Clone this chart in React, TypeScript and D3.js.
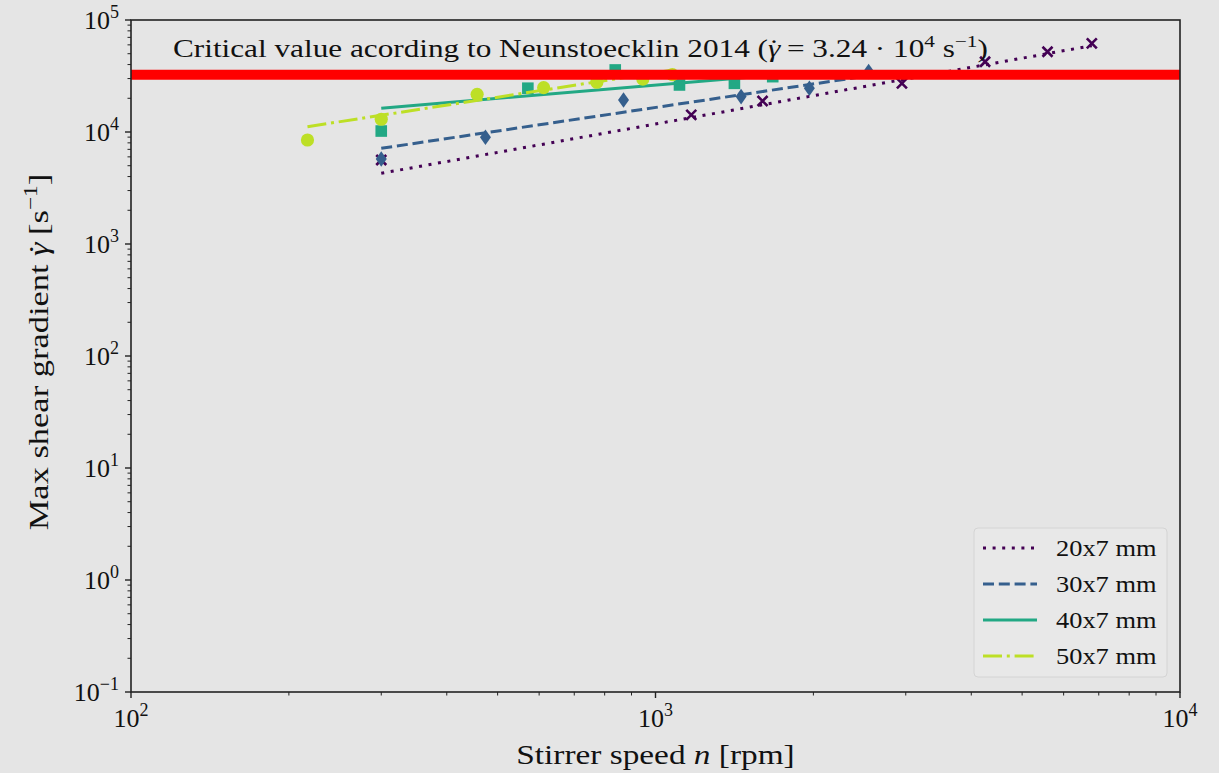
import React from 'react';
import * as d3 from 'd3';

const W = 1219;
const H = 773;
const M = { left: 131, right: 39, top: 20, bottom: 81 };

// ---- data ----
const seriesNames = ['20x7 mm', '30x7 mm', '40x7 mm', '50x7 mm'];
const seriesColors = ['#440154', '#355f8d', '#22a884', '#bddf26'];

const speeds20 = [300, 1170, 1600, 2950, 4250, 5590, 6790];
const shear20 = [5620, 14200, 18900, 27200, 42400, 52100, 61900];
const speeds30 = [300, 474, 869, 1456, 1965, 2549];
const shear30 = [5740, 8970, 19300, 20700, 24600, 34700];
const speeds40 = [300, 571, 838, 1111, 1414, 1673];
const shear40 = [10200, 24600, 35800, 26300, 27200, 31200];
const speeds50 = [217, 300, 457, 612, 773, 946, 1077];
const shear50 = [8480, 13000, 21700, 24900, 27800, 29700, 32500];

// fitted power-law lines (start / end points)
const fitSpeeds20 = [300, 6790];
const fitShear20 = [4280, 59000];
const fitSpeeds30 = [300, 2549];
const fitShear30 = [7150, 31800];
const fitSpeeds40 = [300, 1673];
const fitShear40 = [16300, 32150];
const fitSpeeds50 = [217, 1077];
const fitShear50 = [11150, 35700];

const criticalShear = 32400;

const xDomain = [100, 10000];
const yDomain = [0.1, 100000];
const xMajor = [2, 3, 4];
const yMajor = [-1, 0, 1, 2, 3, 4, 5];

const FONT = '"Liberation Serif", "DejaVu Serif", serif';

const dashes = ['3 6.6', '11 4.8', '', '19 4.8 3 4.8'];
const markerKinds = ['x', 'diamond', 'square', 'circle'];

function Marker({ kind, x, y, color }: { kind: string; x: number; y: number; color: string }) {
  if (kind === 'x') {
    const s = 5;
    return (
      <path
        d={`M${x - s},${y - s}L${x + s},${y + s}M${x - s},${y + s}L${x + s},${y - s}`}
        stroke={color}
        strokeWidth={2.6}
        fill="none"
      />
    );
  }
  if (kind === 'diamond') {
    const w = 5.5, h = 7.8;
    return <path d={`M${x},${y - h}L${x + w},${y}L${x},${y + h}L${x - w},${y}Z`} fill={color} />;
  }
  if (kind === 'square') {
    const s = 5.8;
    return <rect x={x - s} y={y - s} width={2 * s} height={2 * s} fill={color} />;
  }
  return <circle cx={x} cy={y} r={6.6} fill={color} />;
}

// italic gamma with a dot above
function GammaDot({ size }: { size: number }) {
  return (
    <>
      <tspan fontStyle="italic">γ</tspan>
      <tspan dx={-size * 0.37}>˙</tspan>
      <tspan dx={size * 0.04}>{''}</tspan>
    </>
  );
}

export default function App() {
  const x = d3.scaleLog().domain(xDomain).range([M.left, W - M.right]);
  const y = d3.scaleLog().domain(yDomain).range([H - M.bottom, M.top]);

  const allSpeeds = [speeds20, speeds30, speeds40, speeds50];
  const allShear = [shear20, shear30, shear40, shear50];
  const fitS = [fitSpeeds20, fitSpeeds30, fitSpeeds40, fitSpeeds50];
  const fitV = [fitShear20, fitShear30, fitShear40, fitShear50];

  const line = d3
    .line<[number, number]>()
    .x((d) => x(d[0]))
    .y((d) => y(d[1]));

  const x0 = M.left, x1 = W - M.right, y0 = H - M.bottom, y1 = M.top;

  const minorX: number[] = [];
  for (let e = 2; e < 4; e++) for (let k = 2; k <= 9; k++) minorX.push(k * Math.pow(10, e));
  const minorY: number[] = [];
  for (let e = -1; e < 5; e++) for (let k = 2; k <= 9; k++) minorY.push(k * Math.pow(10, e));

  const fs = 26;

  return (
    <svg
      width={W}
      height={H}
      style={{ position: 'absolute', left: 0, top: 0, background: '#e5e5e5' }}
      fontFamily={FONT}
    >
      <rect x={0} y={0} width={W} height={H} fill="#e5e5e5" />

      {/* series */}
      {allSpeeds.map((sp, i) => (
        <g key={i}>
          {sp.map((n, j) => (
            <Marker key={j} kind={markerKinds[i]} x={x(n)} y={y(allShear[i][j])} color={seriesColors[i]} />
          ))}
          <path
            d={line(fitS[i].map((n, j) => [n, fitV[i][j]]) as [number, number][]) || ''}
            stroke={seriesColors[i]}
            strokeWidth={3}
            fill="none"
            strokeDasharray={dashes[i] || undefined}
          />
        </g>
      ))}

      {/* critical value */}
      <line x1={x0} x2={x1} y1={y(criticalShear)} y2={y(criticalShear)} stroke="#ff0000" strokeWidth={10} />

      <g transform="translate(173,57) scale(1.25,1)">
        <text x={0} y={0} fontSize={25} fill="#111">
          Critical value acording to Neunstoecklin 2014 (
          <GammaDot size={25} /> = 3.24 · 10
          <tspan dy={-10} fontSize={17}>4</tspan>
          <tspan dy={10}> s</tspan>
          <tspan dy={-10} fontSize={17}>−1</tspan>
          <tspan dy={10}>)</tspan>
        </text>
      </g>

      {/* frame */}
      <rect x={x0} y={y1} width={x1 - x0} height={y0 - y1} fill="none" stroke="#222" strokeWidth={1.6} />

      {/* x ticks */}
      {minorX.map((v, i) => (
        <line key={'mx' + i} x1={x(v)} x2={x(v)} y1={y0} y2={y0 + 3.5} stroke="#222" strokeWidth={1} />
      ))}
      {xMajor.map((e) => (
        <g key={'X' + e}>
          <line x1={x(Math.pow(10, e))} x2={x(Math.pow(10, e))} y1={y0} y2={y0 + 6} stroke="#222" strokeWidth={1.4} />
          <text x={x(Math.pow(10, e))} y={y0 + 35} fontSize={fs} textAnchor="middle" fill="#111">
            10<tspan dy={-11} fontSize={18}>{e}</tspan>
          </text>
        </g>
      ))}

      {/* y ticks */}
      {minorY.map((v, i) => (
        <line key={'my' + i} x1={x0 - 3.5} x2={x0} y1={y(v)} y2={y(v)} stroke="#222" strokeWidth={1} />
      ))}
      {yMajor.map((e) => (
        <g key={'Y' + e}>
          <line x1={x0 - 6} x2={x0} y1={y(Math.pow(10, e))} y2={y(Math.pow(10, e))} stroke="#222" strokeWidth={1.4} />
          <text x={x0 - 12} y={y(Math.pow(10, e)) + 9} fontSize={fs} textAnchor="end" fill="#111">
            10<tspan dy={-11} fontSize={18}>{e < 0 ? '−' + Math.abs(e) : String(e)}</tspan>
          </text>
        </g>
      ))}

      {/* axis labels */}
      <g transform={`translate(${(x0 + x1) / 2}, 764) scale(1.19,1)`}>
        <text x={0} y={0} fontSize={28} textAnchor="middle" fill="#111">
          Stirrer speed <tspan fontStyle="italic">n</tspan> [rpm]
        </text>
      </g>
      <g transform={`translate(48, 352) rotate(-90) scale(1.23,1)`}>
        <text x={0} y={0} fontSize={28} textAnchor="middle" fill="#111">
          Max shear gradient <GammaDot size={28} /> [s<tspan dy={-11} fontSize={19}>−1</tspan>
          <tspan dy={11}>]</tspan>
        </text>
      </g>

      {/* legend */}
      <rect x={974} y={528} width={193} height={149} rx={4} fill="#e8e8e8" stroke="#d4d4d4" strokeWidth={1} />
      {seriesNames.map((name, i) => {
        const ly = 548 + i * 36;
        return (
          <g key={name}>
            <line
              x1={983}
              x2={1037}
              y1={ly}
              y2={ly}
              stroke={seriesColors[i]}
              strokeWidth={3}
              strokeDasharray={dashes[i] || undefined}
            />
            <g transform={`translate(1056, ${ly + 8}) scale(1.1,1)`}>
              <text x={0} y={0} fontSize={24} fill="#111">
                {name}
              </text>
            </g>
          </g>
        );
      })}
    </svg>
  );
}
